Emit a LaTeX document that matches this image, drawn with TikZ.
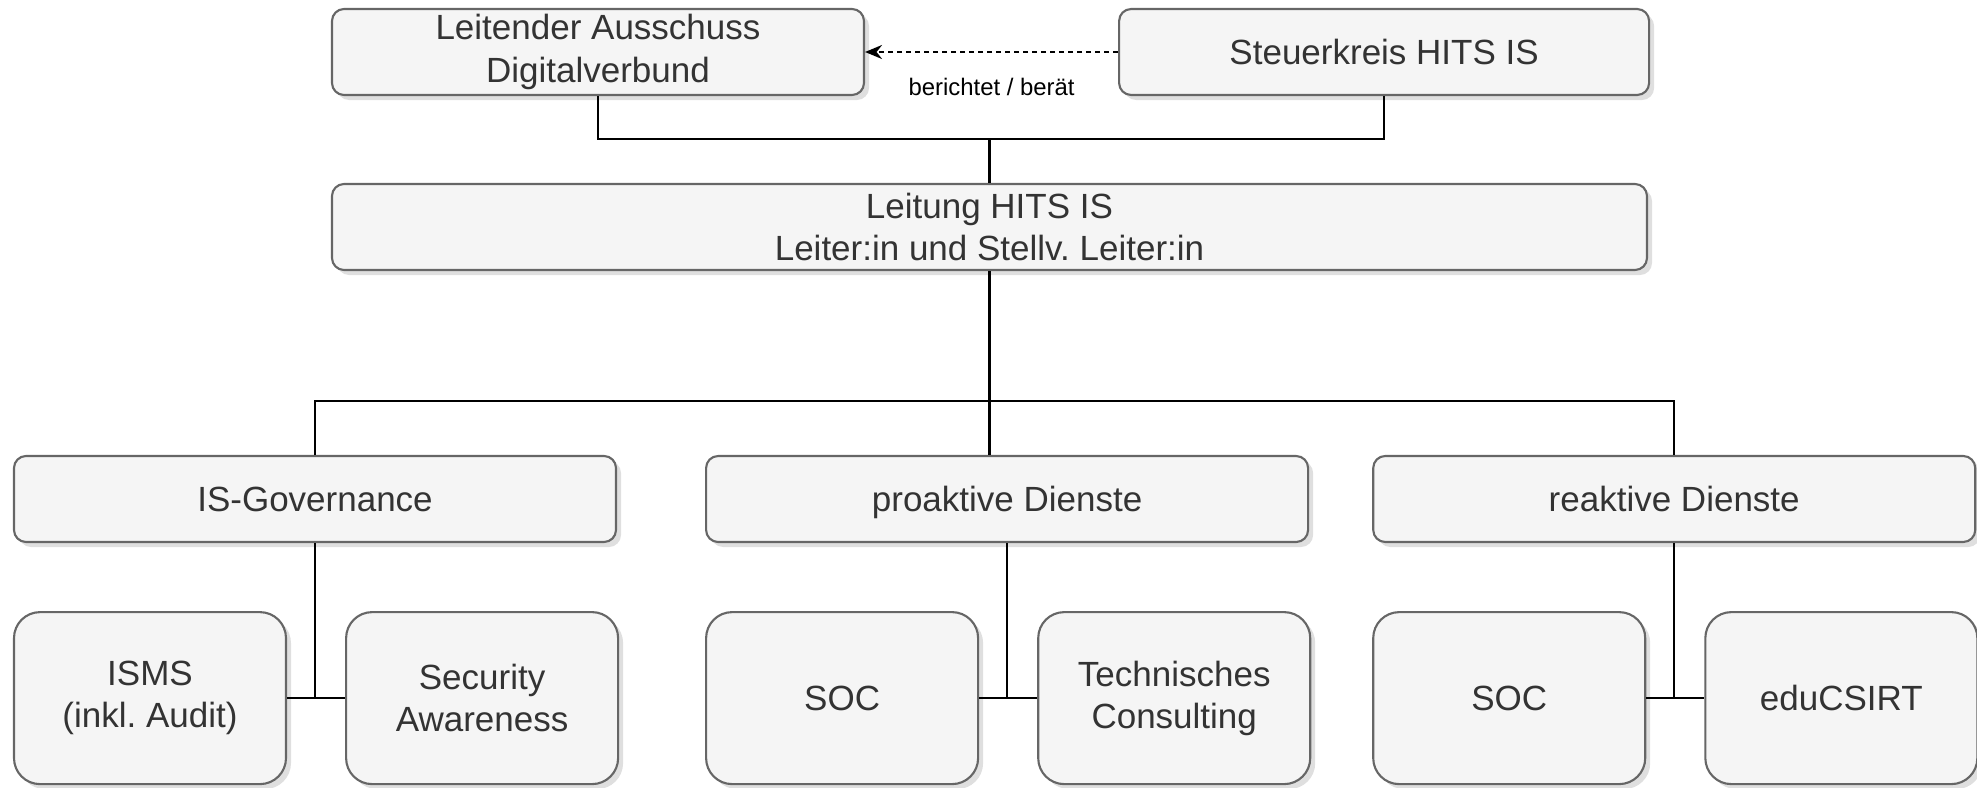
\documentclass[tikz,border=0pt]{standalone}
\usepackage{fontspec}
\setmainfont{Liberation Sans}
\usetikzlibrary{positioning,shadows,arrows.meta}
\definecolor{boxfill}{HTML}{F5F5F5}
\definecolor{boxline}{HTML}{666666}
\definecolor{boxtext}{HTML}{333333}
\frenchspacing

\begin{document}
\begin{tikzpicture}[line width=0.6pt,
  main box/.style={rectangle,rounded corners=0.12cm,draw=boxline,fill=boxfill,text=boxtext,inner ysep=0pt,minimum height=0.86cm,align=center,font=\fontsize{9.96}{12}\selectfont,drop shadow={shadow xshift=0.05cm,shadow yshift=-0.05cm,opacity=0.25}},
  single/.style={text height=0.85em,text depth=0.15em},
  unit box/.style={main box,single,minimum width=6.02cm},
  sub box/.style={main box,rounded corners=0.26cm,minimum width=2.72cm,minimum height=1.72cm}]
                \useasboundingbox (0,0) rectangle (19.77,-7.88);

                \node[main box,minimum width=5.32cm] (lad) at (5.98,-0.52) {Leitender Ausschuss\\Digitalverbund};
                \node[main box,single,minimum width=5.30cm,right=2.53cm of lad] (skr) {Steuerkreis HITS IS};
                \node[main box,minimum width=13.15cm] (leitung) at (9.895,-2.27) {Leitung HITS IS\\Leiter:in und Stellv. Leiter:in};

                \node[unit box] (gov) at (3.15,-4.99) {IS-Governance};
                \node[unit box,right=0.88cm of gov] (pro) {proaktive Dienste};
                \node[unit box,right=0.63cm of pro] (rea) {reaktive Dienste};

                \node[sub box,below=0.68cm of gov.south west,anchor=north west] (isms) {ISMS\\(inkl. Audit)};
                \node[sub box,right=0.58cm of isms] (sec) {Security\\Awareness};
                \node[sub box,single,below=0.68cm of pro.south west,anchor=north west] (soc1) {SOC};
                \node[sub box,right=0.58cm of soc1] (tech) {Technisches\\Consulting};
                \node[sub box,single,below=0.68cm of rea.south west,anchor=north west] (soc2) {SOC};
                \node[sub box,single,right=0.58cm of soc2] (csirt) {eduCSIRT};

                \draw[dashed,dash pattern=on 0.05cm off 0.04cm,-{Stealth[length=0.17cm,width=0.14cm]}] (skr.west) -- (lad.east)
                    node[midway,yshift=-0.35cm,font=\fontsize{6.8}{8}\selectfont] {berichtet / berät};

                \coordinate (oben) at (9.895,-1.39);
                \coordinate (mitte) at (9.895,-4.01);
                \draw (lad.south) |- (oben) -| (skr.south);
                \draw (oben) -- (leitung.north);
                \draw (leitung.south) -- (mitte);
                \draw (gov.north) |- (mitte) -| (rea.north);
                \draw (mitte) -- (mitte |- pro.north);

                \draw (gov.south) -- (gov.south |- isms.east);
                \draw (isms.east) -- (sec.west);
                \draw (pro.south) -- (pro.south |- soc1.east);
                \draw (soc1.east) -- (tech.west);
                \draw (rea.south) -- (rea.south |- soc2.east);
                \draw (soc2.east) -- (csirt.west);
            \end{tikzpicture}
\end{document}
